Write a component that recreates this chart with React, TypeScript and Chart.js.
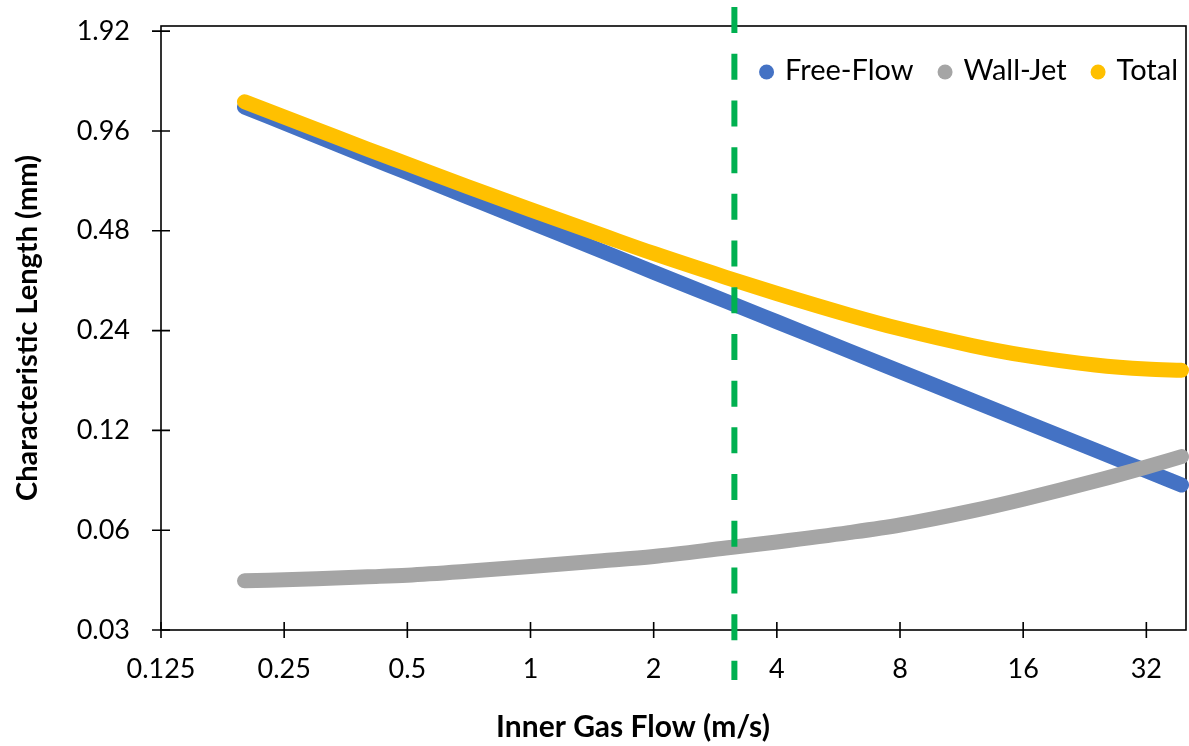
import React, { useEffect, useRef } from 'react';
import { Chart, registerables } from 'chart.js';

Chart.register(...registerables);

// Inner gas flow speed (m/s) at which each length was evaluated
const flowSpeeds = [0.2, 0.3, 0.4, 0.5, 0.7, 1, 1.5, 2, 3, 4, 6, 8, 12, 16, 24, 32, 39];

// Characteristic lengths (mm)
const freeFlow = [1.134, 0.927, 0.803, 0.719, 0.608, 0.509, 0.416, 0.36, 0.2945, 0.2552, 0.2085, 0.1807, 0.1477, 0.128, 0.1046, 0.0906, 0.0821];
const wallJet = [0.0422, 0.0428, 0.0434, 0.0439, 0.0451, 0.0466, 0.0485, 0.05, 0.053, 0.0553, 0.059, 0.0622, 0.0686, 0.0744, 0.0844, 0.0931, 0.1];
const total = [1.176, 0.97, 0.846, 0.763, 0.653, 0.556, 0.465, 0.41, 0.3475, 0.3105, 0.2675, 0.2429, 0.2163, 0.2024, 0.189, 0.1837, 0.1821];

// Vertical marker at the transition speed (drawn past both ends of the plot)
const transitionSpeed = 3.15;
const transitionSpan = [2.27, 0.0212];

const xTickValues = [0.125, 0.25, 0.5, 1, 2, 4, 8, 16, 32];
const xTickLabels = ['0.125', '0.25', '0.5', '1', '2', '4', '8', '16', '32'];
const yTickValues = [0.03, 0.06, 0.12, 0.24, 0.48, 0.96, 1.92];
const yTickLabels = ['0.03', '0.06', '0.12', '0.24', '0.48', '0.96', '1.92'];

const seriesNames = ['Free-Flow', 'Wall-Jet', 'Total'];
const seriesColors = ['#4472C4', '#A5A5A5', '#FFC000'];
const xTitle = 'Inner Gas Flow (m/s)';
const yTitle = 'Characteristic Length (mm)';

const FONT = 'Lato';

const curve = (label: string, values: number[], color: string, order: number) => ({
  label,
  data: flowSpeeds.map((x, i) => ({ x, y: values[i] })),
  borderColor: color,
  backgroundColor: color,
  borderWidth: 15,
  borderCapStyle: 'round',
  borderJoinStyle: 'round',
  pointRadius: 0,
  pointHoverRadius: 0,
  showLine: true,
  cubicInterpolationMode: 'monotone',
  clip: false,
  order,
});

// Plot frame plus tick marks that cross the axes
const framePlugin = {
  id: 'frameTicks',
  beforeDatasetsDraw(chart: any) {
    const { ctx, chartArea: a, scales } = chart;
    ctx.save();
    ctx.strokeStyle = '#000';
    ctx.lineWidth = 1.6;
    ctx.strokeRect(a.left, a.top, a.right - a.left, a.bottom - a.top);
    ctx.beginPath();
    for (const v of xTickValues) {
      const px = scales.x.getPixelForValue(v);
      ctx.moveTo(px, a.bottom - 8);
      ctx.lineTo(px, a.bottom + 8);
    }
    for (const v of yTickValues) {
      const py = scales.y.getPixelForValue(v);
      ctx.moveTo(a.left - 9, py);
      ctx.lineTo(a.left + 9, py);
    }
    ctx.stroke();
    ctx.restore();
  },
};

// Legend inside the top-right of the plot, and the horizontal axis title
const annotationPlugin = {
  id: 'legendAndTitle',
  afterDraw(chart: any) {
    const { ctx, chartArea: a } = chart;
    ctx.save();
    ctx.font = `29px ${FONT}`;
    ctx.textBaseline = 'alphabetic';
    ctx.textAlign = 'left';
    const r = 7.5;
    const y = 72;
    let x = a.right - 8;
    const items = seriesNames.map((n, i) => ({ n, c: seriesColors[i] })).reverse();
    for (const it of items) {
      const w = ctx.measureText(it.n).width;
      const tx = x - w;
      const cx = tx - 11 - r;
      ctx.fillStyle = it.c;
      ctx.beginPath();
      ctx.arc(cx, y, r, 0, Math.PI * 2);
      ctx.fill();
      ctx.fillStyle = '#000';
      ctx.fillText(it.n, tx, y + 8);
      x = cx - r - 24;
    }

    ctx.font = `bold 30px ${FONT}`;
    ctx.textAlign = 'center';
    ctx.textBaseline = 'middle';
    ctx.fillStyle = '#000';
    ctx.fillText(xTitle, 633, 727);
    ctx.restore();
  },
};

export default function App() {
  const ref = useRef<HTMLCanvasElement>(null);

  useEffect(() => {
    const chart = new Chart(ref.current as HTMLCanvasElement, {
      type: 'scatter',
      data: {
        datasets: [
          curve(seriesNames[0], freeFlow, seriesColors[0], 3),
          curve(seriesNames[1], wallJet, seriesColors[1], 2),
          curve(seriesNames[2], total, seriesColors[2], 1),
          {
            label: 'transition',
            data: transitionSpan.map((y) => ({ x: transitionSpeed, y })),
            borderColor: '#00B050',
            backgroundColor: '#00B050',
            borderWidth: 6,
            borderDash: [26, 20.7],
            borderCapStyle: 'butt',
            pointRadius: 0,
            pointHoverRadius: 0,
            showLine: true,
            tension: 0,
            clip: false,
            order: 0,
          },
        ] as any,
      },
      options: {
        responsive: false,
        animation: false,
        events: [],
        layout: { padding: { top: 26, right: 3, left: 0, bottom: 0 } },
        plugins: {
          legend: { display: false },
          tooltip: { enabled: false },
        },
        scales: {
          x: {
            type: 'logarithmic',
            min: 0.125,
            max: 40,
            grid: { display: false, drawTicks: false },
            border: { display: false },
            afterBuildTicks: (s: any) => {
              s.ticks = xTickValues.map((value) => ({ value }));
            },
            afterFit: (s: any) => {
              s.height = 116;
              s.paddingLeft = 0;
              s.paddingRight = 0;
            },
            ticks: {
              autoSkip: false,
              maxRotation: 0,
              padding: 23,
              color: '#000',
              font: { family: FONT, size: 27 },
              callback: (_v: any, i: number) => xTickLabels[i],
            },
            title: { display: false },
          },
          y: {
            type: 'logarithmic',
            min: 0.03,
            max: 1.99,
            grid: { display: false, drawTicks: false },
            border: { display: false },
            afterBuildTicks: (s: any) => {
              s.ticks = yTickValues.map((value) => ({ value }));
            },
            afterFit: (s: any) => {
              s.width = 161;
              s.paddingTop = 0;
              s.paddingBottom = 0;
            },
            ticks: {
              autoSkip: false,
              padding: 31,
              color: '#000',
              font: { family: FONT, size: 27 },
              callback: (_v: any, i: number) => yTickLabels[i],
            },
            title: {
              display: true,
              text: yTitle,
              color: '#000',
              font: { family: FONT, size: 29, weight: 'bold' },
              padding: { top: 10, bottom: 0 },
            },
          },
        },
      } as any,
      plugins: [framePlugin, annotationPlugin],
    });
    return () => chart.destroy();
  }, []);

  return (
    <div style={{ position: 'absolute', left: 0, top: 0, width: 1189, height: 746, background: '#fff' }}>
      <canvas ref={ref} width={1189} height={746} style={{ display: 'block' }} />
    </div>
  );
}
